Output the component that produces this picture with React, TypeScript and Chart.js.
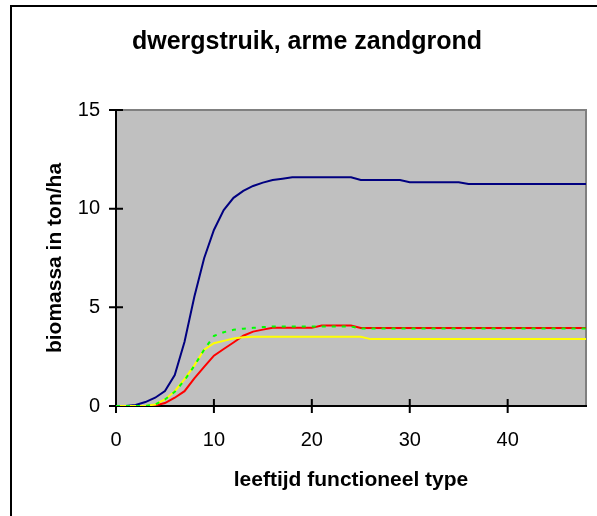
import React, { useEffect, useRef } from "react";
import { Chart, registerables } from "chart.js";

Chart.register(...registerables);

const TITLE = "dwergstruik, arme zandgrond";
const X_TITLE = "leeftijd functioneel type";
const Y_TITLE = "biomassa in ton/ha";

const ages = Array.from({ length: 49 }, (_, i) => i);

const xTicks = [0, 10, 20, 30, 40];
const yTicks = [0, 5, 10, 15];

const blueSeries = [
  0, 0, 0.05, 0.2, 0.42, 0.76, 1.57, 3.26, 5.54, 7.49, 8.92, 9.93, 10.55, 10.9, 11.15, 11.32, 11.45, 11.52,
  11.59, 11.59, 11.59, 11.59, 11.59, 11.59, 11.59,
  11.45, 11.45, 11.45, 11.45, 11.45,
  11.34, 11.34, 11.34, 11.34, 11.34, 11.34,
  11.25, 11.25, 11.25, 11.25, 11.25, 11.25, 11.25, 11.25, 11.25, 11.25, 11.25, 11.25, 11.25,
];

const redSeries = [
  0, 0, 0, 0, 0.03, 0.15, 0.42, 0.75, 1.4, 1.98, 2.55, 2.89, 3.22, 3.56, 3.77, 3.87, 3.96,
  3.96, 3.96, 3.96, 3.96,
  4.08, 4.08, 4.08, 4.08,
  3.95, 3.95, 3.95, 3.95, 3.95, 3.95, 3.95, 3.95, 3.95, 3.95, 3.95, 3.95,
  3.95, 3.95, 3.95, 3.95, 3.95, 3.95, 3.95, 3.95, 3.95, 3.95, 3.95, 3.95,
];

const yellowSeries = [
  0, 0, 0, 0, 0.08, 0.33, 0.75, 1.36, 2.06, 2.85, 3.18, 3.3, 3.42, 3.48,
  3.51, 3.51, 3.51, 3.51, 3.51, 3.51, 3.51, 3.51, 3.51, 3.51, 3.51, 3.51,
  3.39, 3.39, 3.39, 3.39, 3.39, 3.39, 3.39, 3.39, 3.39, 3.39, 3.39, 3.39,
  3.39, 3.39, 3.39, 3.39, 3.39, 3.39, 3.39, 3.39, 3.39, 3.39, 3.39,
];

const greenSeries = [
  0, 0, 0, 0, 0.08, 0.33, 0.72, 1.3, 2.04, 2.85, 3.55, 3.74, 3.86, 3.92, 3.96, 4.0,
  4.03, 4.03, 4.03, 4.03, 4.03, 4.03, 4.03, 4.03, 4.03,
  3.93, 3.93, 3.93, 3.93, 3.93, 3.93, 3.93, 3.93, 3.93, 3.93, 3.93, 3.93,
  3.93, 3.93, 3.93, 3.93, 3.93, 3.93, 3.93, 3.93, 3.93, 3.93, 3.93, 3.93,
];

const FONT = "'Liberation Sans', Arial, sans-serif";

const framePlugin = {
  id: "excelFrame",
  beforeDatasetsDraw(chart: any) {
    const { ctx, chartArea } = chart;
    const { left, right, top, bottom } = chartArea;
    ctx.save();
    ctx.fillStyle = "#C0C0C0";
    ctx.fillRect(left, top, right - left, bottom - top);
    ctx.lineWidth = 2;
    ctx.strokeStyle = "#808080";
    ctx.beginPath();
    ctx.moveTo(left, top);
    ctx.lineTo(right, top);
    ctx.lineTo(right, bottom);
    ctx.stroke();
    ctx.strokeStyle = "#000000";
    ctx.beginPath();
    ctx.moveTo(left, top - 1);
    ctx.lineTo(left, bottom);
    ctx.lineTo(right + 1, bottom);
    ctx.stroke();
    const xs = chart.scales.x;
    const ys = chart.scales.y;
    ctx.beginPath();
    xs.ticks.forEach((t: any) => {
      const px = xs.getPixelForValue(t.value);
      ctx.moveTo(px, bottom - 7);
      ctx.lineTo(px, bottom + 7);
    });
    ys.ticks.forEach((t: any) => {
      const py = ys.getPixelForValue(t.value);
      ctx.moveTo(left - 7, py);
      ctx.lineTo(left + 7, py);
    });
    ctx.stroke();
    ctx.restore();
  },
};

export default function App() {
  const ref = useRef<HTMLCanvasElement | null>(null);

  useEffect(() => {
    if (!ref.current) return;
    const mk = (label: string, data: number[], color: string, order: number, dash: number[] = []) => ({
      label,
      data: ages.map((a, i) => ({ x: a, y: data[i] })),
      borderColor: color,
      backgroundColor: color,
      borderWidth: 2,
      borderDash: dash,
      pointRadius: 0,
      tension: 0,
      fill: false,
      order,
    });
    const chart = new Chart(ref.current, {
      type: "line",
      data: {
        datasets: [
          mk("blauw", blueSeries, "#000080", 4),
          mk("rood", redSeries, "#FF0000", 3),
          mk("geel", yellowSeries, "#FFFF00", 2),
          mk("groen", greenSeries, "#00FF00", 1, [4, 6]),
        ],
      },
      options: {
        animation: false,
        responsive: false,
        maintainAspectRatio: false,
        layout: { padding: { left: 28, right: 11, top: 0, bottom: 0 } },
        plugins: {
          legend: { display: false },
          tooltip: { enabled: false },
          title: {
            display: true,
            text: TITLE,
            color: "#000",
            font: { family: FONT, size: 25, weight: "bold" },
            padding: { top: 27, bottom: 53 },
          },
        },
        scales: {
          x: {
            type: "linear",
            min: 0,
            max: 48,
            afterBuildTicks: (s: any) => {
              s.ticks = xTicks.map((v) => ({ value: v }));
            },
            afterFit: (s: any) => {
              s.height = 110;
            },
            grid: { display: false, drawTicks: false },
            border: { display: false },
            ticks: {
              color: "#000",
              padding: 22,
              maxRotation: 0,
              font: { family: FONT, size: 20 },
            },
            title: {
              display: true,
              text: X_TITLE,
              color: "#000",
              font: { family: FONT, size: 21, weight: "bold" },
              padding: { top: 0, bottom: 23 },
            },
          },
          y: {
            type: "linear",
            min: 0,
            max: 15,
            afterBuildTicks: (s: any) => {
              s.ticks = yTicks.map((v) => ({ value: v }));
            },
            afterFit: (s: any) => {
              s.width = 88;
            },
            grid: { display: false, drawTicks: false },
            border: { display: false },
            ticks: {
              color: "#000",
              padding: 16,
              font: { family: FONT, size: 20 },
            },
            title: {
              display: true,
              text: Y_TITLE,
              color: "#000",
              font: { family: FONT, size: 21, weight: "bold" },
              padding: { top: 15, bottom: 0 },
            },
          },
        },
      },
      plugins: [framePlugin],
    } as any);
    return () => chart.destroy();
  }, []);

  return (
    <div style={{ position: "absolute", left: 0, top: 0, width: 597, height: 516, background: "#fff", overflow: "hidden" }}>
      <div
        style={{
          position: "absolute",
          left: 10,
          top: 5,
          width: 700,
          height: 700,
          borderLeft: "2px solid #000",
          borderTop: "2px solid #000",
        }}
      />
      <canvas ref={ref} width={597} height={516} style={{ position: "absolute", left: 0, top: 0 }} />
    </div>
  );
}
